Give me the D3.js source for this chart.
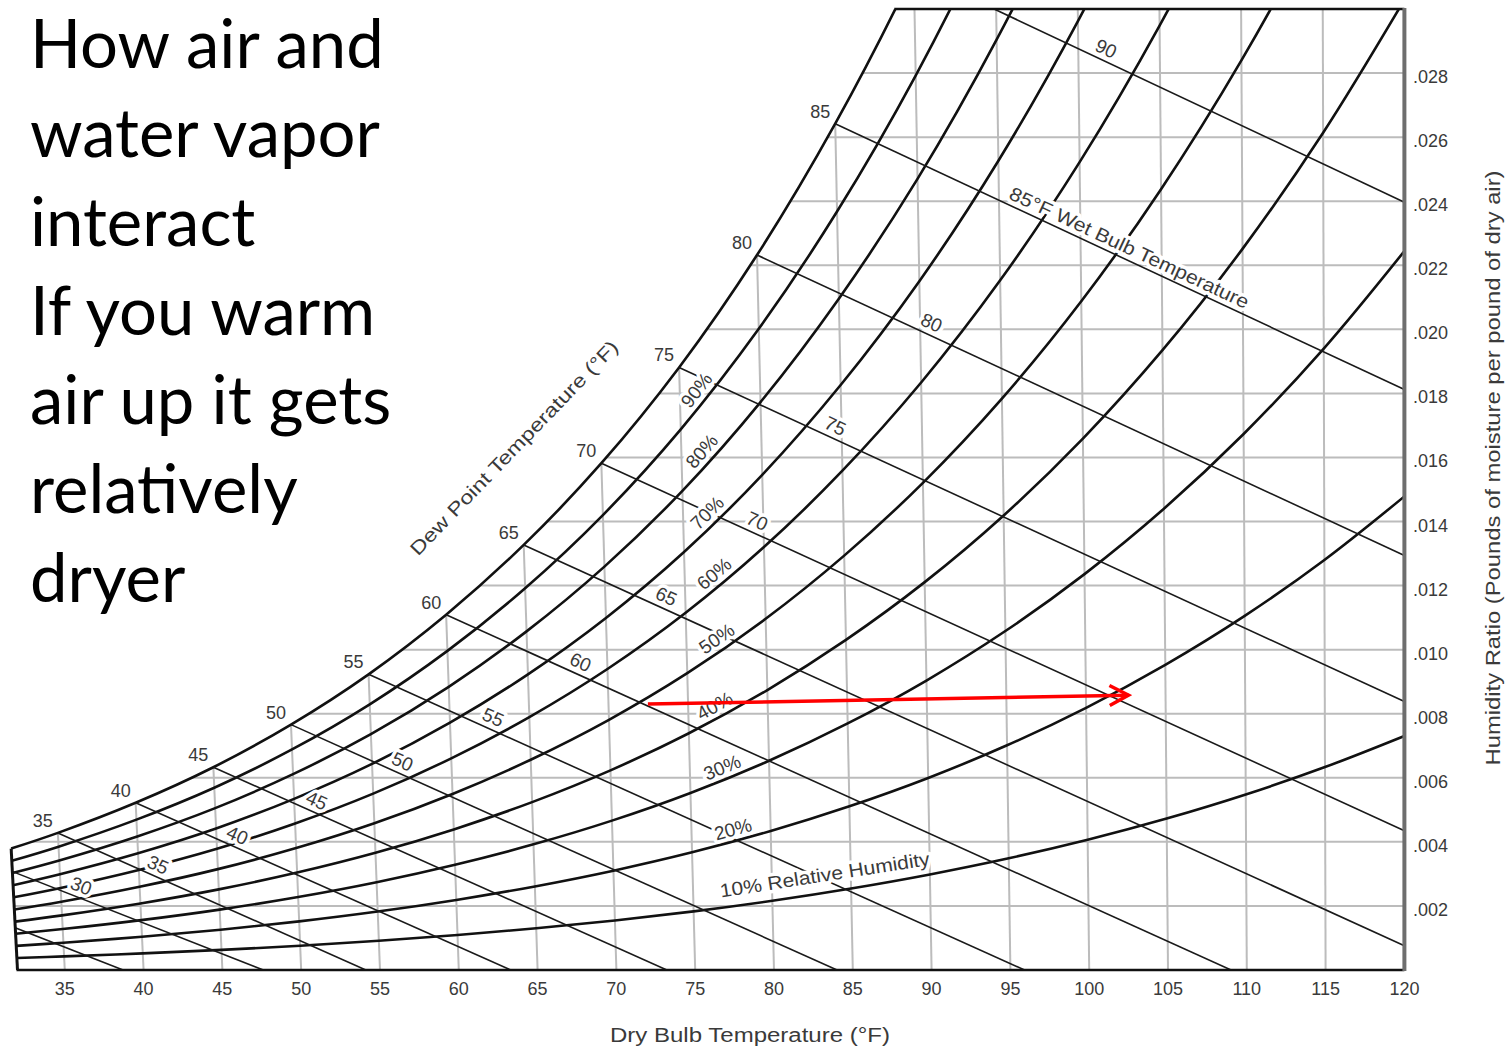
<!DOCTYPE html>
<html lang="en">
<head>
<meta charset="UTF-8" />
<title>Psychrometric chart</title>
<script src="https://d3js.org/d3.v7.min.js"></script>
<style>
  body { margin: 0; background: #fff; }
  svg { display: block; }
  .lbl { font-family: 'Liberation Sans', Arial, sans-serif; fill: #3a3a3a; }
  .halo { font-family: 'Liberation Sans', Arial, sans-serif; fill: #fff; stroke: #fff; stroke-width: 7; stroke-linejoin: round; }
  .note { font-family: Lato, 'Open Sans', sans-serif; fill: #000; }
</style>
</head>
<body>
<svg width="1509" height="1048"></svg>
<script>
// dry bulb temperature (°F) and humidity ratio of saturated air
const dryBulbTemps = [32, 35, 40, 45, 50, 55, 60, 65, 70, 75, 80, 85, 90, 95, 100, 105, 110, 115, 120];
const saturationW = [0.00379, 0.00428, 0.00522, 0.00633, 0.00766, 0.00923, 0.01109, 0.01327, 0.01582,
  0.01881, 0.02232, 0.02642, 0.03118, 0.03673, 0.0432, 0.05074, 0.05951, 0.06974, 0.08169];

const rhLevels = [0.1, 0.2, 0.3, 0.4, 0.5, 0.6, 0.7, 0.8, 0.9, 1.0];
const rhLabels = ['10% Relative Humidity', '20%', '30%', '40%', '50%', '60%', '70%', '80%', '90%'];
const rhLabelTemps = [83.5, 77.8, 77.3, 77.0, 77.3, 77.3, 77.0, 76.8, 76.6];

const dewPointTemps = [35, 40, 45, 50, 55, 60, 65, 70, 75, 80, 85];

// wet bulb lines: start on saturation, end on the bottom (W = 0) or right edge (120°F)
const wetBulbTemps = [25, 30, 35, 40, 45, 50, 55, 60, 65, 70, 75, 80, 85, 90];
const wetBulbStartW = [0.0027, 0.00347, 0.00428, 0.00522, 0.00633, 0.00766, 0.00923, 0.01109,
  0.01327, 0.01582, 0.01881, 0.02232, 0.02642, 0.03118];
const wetBulbEndT = [38.7, 47.6, 54.1, 63.3, 73.2, 84, 95.9, 109, 120, 120, 120, 120, 120, 120];
const wetBulbEndW = [0, 0, 0, 0, 0, 0, 0, 0, 0.00076, 0.00435, 0.00838, 0.01294, 0.01812, 0.02397];
const wetBulbLabels = ['', '30', '35', '40', '45', '50', '55', '60', '65', '70', '75', '80',
  '85°F Wet Bulb Temperature', '90'];
const wetBulbLabelTemps = [0, 36, 40.9, 46, 51.1, 56.6, 62.4, 68, 73.5, 79.3, 84.3, 90.4, 102.7, 101.4];

const xTicks = [35, 40, 45, 50, 55, 60, 65, 70, 75, 80, 85, 90, 95, 100, 105, 110, 115, 120];
const gridTemps = [35, 40, 45, 50, 55, 60, 65, 70, 75, 80, 85, 90, 95, 100, 105, 110, 115];
const yTicks = [0.002, 0.004, 0.006, 0.008, 0.010, 0.012, 0.014, 0.016, 0.018, 0.020, 0.022, 0.024, 0.026, 0.028];

const arrowFrom = [72, 0.0083];
const arrowTo = [102.5, 0.00858];

const noteLines = ['How air and', 'water vapor', 'interact', 'If you warm', 'air up it gets', 'relatively', 'dryer'];

const svg = d3.select('svg');
svg.append('rect').attr('width', 1509).attr('height', 1048).attr('fill', '#fff');

const x = d3.scaleLinear().domain([32, 120]).range([17.5, 1404.4]);
const y = d3.scaleLinear().domain([0, 0.03]).range([970, 9]);
// dry bulb lines lean left as humidity rises (120°F line is vertical)
const lean = 19;
const px = (t, w) => x(t) - lean * (120 - t) * w;
const rhW = (ws, rh) => {
  const r = ws / (0.622 + ws);
  return (0.622 * rh * r) / (1 - rh * r);
};
const satAt = d3.scaleLinear().domain(dryBulbTemps).range(saturationW);
const smooth = d3.line().curve(d3.curveCatmullRom.alpha(0.5));

const defs = svg.append('defs');
defs.append('clipPath').attr('id', 'frame').append('rect')
  .attr('x', 0).attr('y', y(0.03)).attr('width', x(120)).attr('height', y(0) - y(0.03));
const satPts = dryBulbTemps
  .map((t, i) => [px(t, saturationW[i]), y(saturationW[i])])
  .filter((p, i) => dryBulbTemps[i] <= 95);
defs.append('clipPath').attr('id', 'region').append('path')
  .attr('d', smooth(satPts) + `L${x(120)},${y(0.04)}L${x(120)},${y(0)}L${px(32, 0)},${y(0)}Z`);

const inRegion = () => svg.append('g').attr('clip-path', 'url(#frame)')
  .append('g').attr('clip-path', 'url(#region)');

// grid
const grid = inRegion();
grid.selectAll('line.v').data(gridTemps).join('line').attr('class', 'v')
  .attr('x1', t => px(t, 0)).attr('y1', y(0))
  .attr('x2', t => px(t, 0.03)).attr('y2', y(0.03))
  .attr('stroke', '#bcbcbc').attr('stroke-width', 2);
grid.selectAll('line.h').data(yTicks).join('line').attr('class', 'h')
  .attr('x1', 0).attr('x2', x(120))
  .attr('y1', d => y(d)).attr('y2', d => y(d))
  .attr('stroke', '#bcbcbc').attr('stroke-width', 2);

// relative humidity curves
svg.append('g').attr('clip-path', 'url(#frame)')
  .selectAll('path').data(rhLevels).join('path')
  .attr('d', rh => smooth(dryBulbTemps.map((t, i) => {
    const w = rhW(saturationW[i], rh);
    return [px(t, w), y(w)];
  })))
  .attr('fill', 'none').attr('stroke', '#111').attr('stroke-width', 2.6);

// label geometry
const wbLabels = [];
wetBulbTemps.forEach((wb, i) => {
  if (!wetBulbLabels[i]) return;
  const t = wetBulbLabelTemps[i];
  const f = (t - wb) / (wetBulbEndT[i] - wb);
  const w = wetBulbStartW[i] + f * (wetBulbEndW[i] - wetBulbStartW[i]);
  const a = Math.atan2(y(wetBulbEndW[i]) - y(wetBulbStartW[i]),
    px(wetBulbEndT[i], wetBulbEndW[i]) - px(wb, wetBulbStartW[i])) * 180 / Math.PI;
  const long = wetBulbLabels[i].length > 3;
  wbLabels.push({ p: [px(t, w), y(w)], a, text: wetBulbLabels[i], dy: -5, len: long ? 262 : null });
});
const rhLabelData = rhLabels.map((text, i) => {
  const t = rhLabelTemps[i], rh = rhLevels[i];
  const pt = tt => { const w = rhW(satAt(tt), rh); return [px(tt, w), y(w)]; };
  const p0 = pt(t - 0.5), p1 = pt(t + 0.5);
  const a = Math.atan2(p1[1] - p0[1], p1[0] - p0[0]) * 180 / Math.PI;
  return { p: pt(t), a, text, dy: i === 0 ? -11 : -5, len: i === 0 ? 212 : null };
});

function drawLabels(layer, data, cls) {
  layer.selectAll('text').data(data).join('text')
    .attr('class', cls)
    .attr('transform', d => `translate(${d.p[0]},${d.p[1]}) rotate(${d.a})`)
    .attr('y', d => d.dy)
    .attr('text-anchor', 'middle')
    .attr('font-size', 19)
    .attr('textLength', d => d.len)
    .attr('lengthAdjust', 'spacingAndGlyphs')
    .text(d => d.text);
}

drawLabels(svg.append('g'), wbLabels, 'halo');

// wet bulb lines
inRegion().selectAll('line').data(wetBulbTemps).join('line')
  .attr('x1', (wb, i) => px(wb, wetBulbStartW[i])).attr('y1', (wb, i) => y(wetBulbStartW[i]))
  .attr('x2', (wb, i) => px(wetBulbEndT[i], wetBulbEndW[i])).attr('y2', (wb, i) => y(wetBulbEndW[i]))
  .attr('stroke', '#1a1a1a').attr('stroke-width', 1.6);

drawLabels(svg.append('g'), rhLabelData, 'halo');
drawLabels(svg.append('g'), wbLabels, 'lbl');
drawLabels(svg.append('g'), rhLabelData, 'lbl');

// dew point labels on the saturation curve
svg.append('g').selectAll('text').data(dewPointTemps).join('text')
  .attr('class', 'lbl')
  .attr('x', t => px(t, satAt(t)) - 15)
  .attr('y', t => y(satAt(t)) - 12)
  .attr('text-anchor', 'middle').attr('dominant-baseline', 'central')
  .attr('font-size', 18)
  .text(t => t);

svg.append('text').attr('class', 'lbl')
  .attr('transform', `translate(${px(64.6, 0.0163)},${y(0.0163)}) rotate(-46)`)
  .attr('text-anchor', 'middle').attr('dominant-baseline', 'central')
  .attr('font-size', 19).attr('textLength', 290).attr('lengthAdjust', 'spacingAndGlyphs')
  .text('Dew Point Temperature (°F)');

// chart frame
const tTop = d3.scaleLinear().domain(saturationW).range(dryBulbTemps)(0.03);
const frame = svg.append('g').attr('fill', 'none');
frame.append('line').attr('x1', px(tTop, 0.03)).attr('x2', x(120))
  .attr('y1', y(0.03)).attr('y2', y(0.03)).attr('stroke', '#111').attr('stroke-width', 2.5);
frame.append('line').attr('x1', px(32, 0) - 1).attr('x2', x(120))
  .attr('y1', y(0)).attr('y2', y(0)).attr('stroke', '#111').attr('stroke-width', 2.5);
frame.append('line').attr('x1', px(32, 0)).attr('y1', y(0))
  .attr('x2', px(32, saturationW[0])).attr('y2', y(saturationW[0]))
  .attr('stroke', '#111').attr('stroke-width', 3);
frame.append('line').attr('x1', x(120)).attr('x2', x(120))
  .attr('y1', y(0.03) - 1).attr('y2', y(0) + 1).attr('stroke', '#6e6e6e').attr('stroke-width', 4);

// axes labels
svg.append('g').selectAll('text').data(xTicks).join('text')
  .attr('class', 'lbl').attr('x', d => x(d)).attr('y', 995)
  .attr('text-anchor', 'middle').attr('font-size', 18).text(d => d);
svg.append('g').selectAll('text').data(yTicks).join('text')
  .attr('class', 'lbl').attr('x', 1413).attr('y', d => y(d) + 10)
  .attr('font-size', 18).text(d => d3.format('.3f')(d).slice(1));

svg.append('text').attr('class', 'lbl')
  .attr('x', 750).attr('y', 1042).attr('text-anchor', 'middle')
  .attr('font-size', 20).attr('textLength', 280).attr('lengthAdjust', 'spacingAndGlyphs')
  .text('Dry Bulb Temperature (°F)');
svg.append('text').attr('class', 'lbl')
  .attr('transform', 'translate(1500,468) rotate(-90)').attr('text-anchor', 'middle')
  .attr('font-size', 20).attr('textLength', 595).attr('lengthAdjust', 'spacingAndGlyphs')
  .text('Humidity Ratio (Pounds of moisture per pound of dry air)');

// warming arrow
defs.append('marker').attr('id', 'head')
  .attr('markerUnits', 'userSpaceOnUse').attr('viewBox', '0 0 24 24')
  .attr('markerWidth', 24).attr('markerHeight', 24).attr('refX', 21).attr('refY', 12)
  .attr('orient', 'auto')
  .append('path').attr('d', 'M2,2 L21,12 L2,22')
  .attr('fill', 'none').attr('stroke', '#f00').attr('stroke-width', 3.5);
svg.append('line')
  .attr('x1', x(arrowFrom[0])).attr('y1', y(arrowFrom[1]))
  .attr('x2', x(arrowTo[0])).attr('y2', y(arrowTo[1]))
  .attr('stroke', '#f00').attr('stroke-width', 3.5)
  .attr('marker-end', 'url(#head)');

// side note
svg.append('g').selectAll('text').data(noteLines).join('text')
  .attr('class', 'note').attr('x', 30).attr('y', (d, i) => 68 + i * 89)
  .attr('font-size', 67).text(d => d);
</script>
</body>
</html>
